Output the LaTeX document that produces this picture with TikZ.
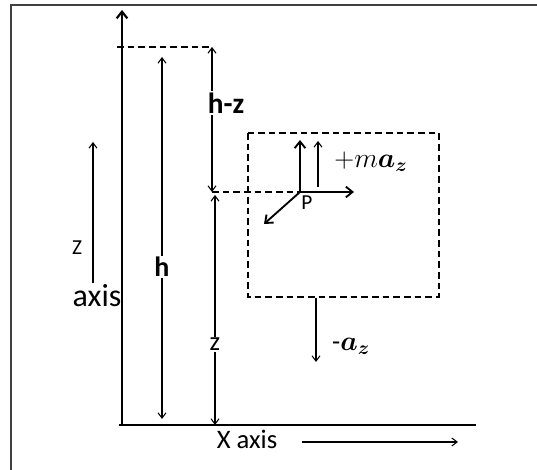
\documentclass[tikz,border=0pt]{standalone}
\usepackage{fontspec}
\usepackage{bm}
\usetikzlibrary{arrows.meta}
\setmainfont{Carlito}
\tikzset{
  vec/.style={-{Straight Barb[length=4pt, width=6pt]}, line width=0.8pt},
  twovec/.style={{Straight Barb[length=4pt, width=6pt]}-{Straight Barb[length=4pt, width=6pt]}, line width=0.8pt},
  thickvec/.style={-{Straight Barb[length=5pt, width=8pt]}, line width=1.4pt},
  guide/.style={dash pattern=on 5pt off 3pt, line width=0.8pt},
  lbl/.style={inner sep=1pt, fill=white}
}
\begin{document}
\begin{tikzpicture}[x=0.75pt, y=-0.75pt]
  \useasboundingbox (0,0) rectangle (537,470);
  % Frame
  \draw[line width=1.2pt, black!75] (11,470) -- (11,5) -- (537,5);

  % Axes
  \coordinate (O) at (122,424);
  \coordinate (Ztop) at (122,10);
  \coordinate (Xend) at (476,425);
  \draw[thickvec, line width=1.6pt] (O) -- (Ztop);
  \draw[line width=1pt] (119,425) -- (Xend);

  % Height marks
  \coordinate (Htop) at (117,47);
  \coordinate (Hcorner) at (212,47);
  \coordinate (Zlevel) at (212,192);
  \coordinate (P) at (300,192);
  \draw[guide] (Htop) -- (Hcorner);
  \draw[guide] (Zlevel) -- (P);

  % h
  \coordinate (hTop) at (162,57);
  \coordinate (hBot) at (162,419);
  \draw[twovec] (hTop) -- node[lbl, pos=0.58, font=\fontsize{21}{21}\selectfont\bfseries] (hLbl) {h} (hBot);

  % h-z
  \draw[twovec] (Hcorner) -- (Zlevel);
  \node[lbl, font=\fontsize{22}{22}\selectfont\bfseries] (hzLbl) at (226,103) {h-z};

  % z
  \coordinate (zTop) at (215,195);
  \coordinate (zBot) at (215,425);
  \draw[twovec] (zTop) -- node[lbl, pos=0.65, font=\fontsize{20}{20}\selectfont] (zLbl) {z} (zBot);

  % Body box
  \draw[guide, line width=1pt] (248,133) rectangle (439,297);
  \coordinate (boxBot) at (316,298);
  \coordinate (azEnd) at (316,362);
  \draw[vec] (boxBot) -- (azEnd);
  \node[font=\fontsize{20}{20}\selectfont] (azLbl) at (351,346) {-$\bm{a_z}$};

  % Vectors at P
  \coordinate (Pup) at (300,140);
  \coordinate (Pright) at (354,192);
  \coordinate (Pdiag) at (264,224);
  \draw[thickvec] (P) -- (Pup);
  \draw[thickvec] (P) -- (Pright);
  \draw[thickvec] (P) -- (Pdiag);
  \coordinate (mBot) at (318,187);
  \coordinate (mTop) at (318,141);
  \draw[vec] (mBot) -- (mTop);
  \node[font=\fontsize{21}{21}\selectfont] (maLbl) at (371,162) {$+m\bm{a_z}$};
  \node[font=\fontsize{16}{16}\selectfont] (PLbl) at (307,203) {P};

  % Z axis label
  \coordinate (ZaBot) at (93,283);
  \coordinate (ZaTop) at (93,142);
  \draw[vec] (ZaBot) -- (ZaTop);
  \node[font=\fontsize{16}{16}\selectfont] (ZLbl) at (77,248) {Z};
  \node[font=\fontsize{24}{24}\selectfont] (axisLbl) at (97,296) {axis};

  % X axis label
  \node[font=\fontsize{20}{20}\selectfont] (XLbl) at (247,439) {X axis};
  \coordinate (XaStart) at (302,442);
  \coordinate (XaEnd) at (458,442);
  \draw[vec] (XaStart) -- (XaEnd);
\end{tikzpicture}
\end{document}
